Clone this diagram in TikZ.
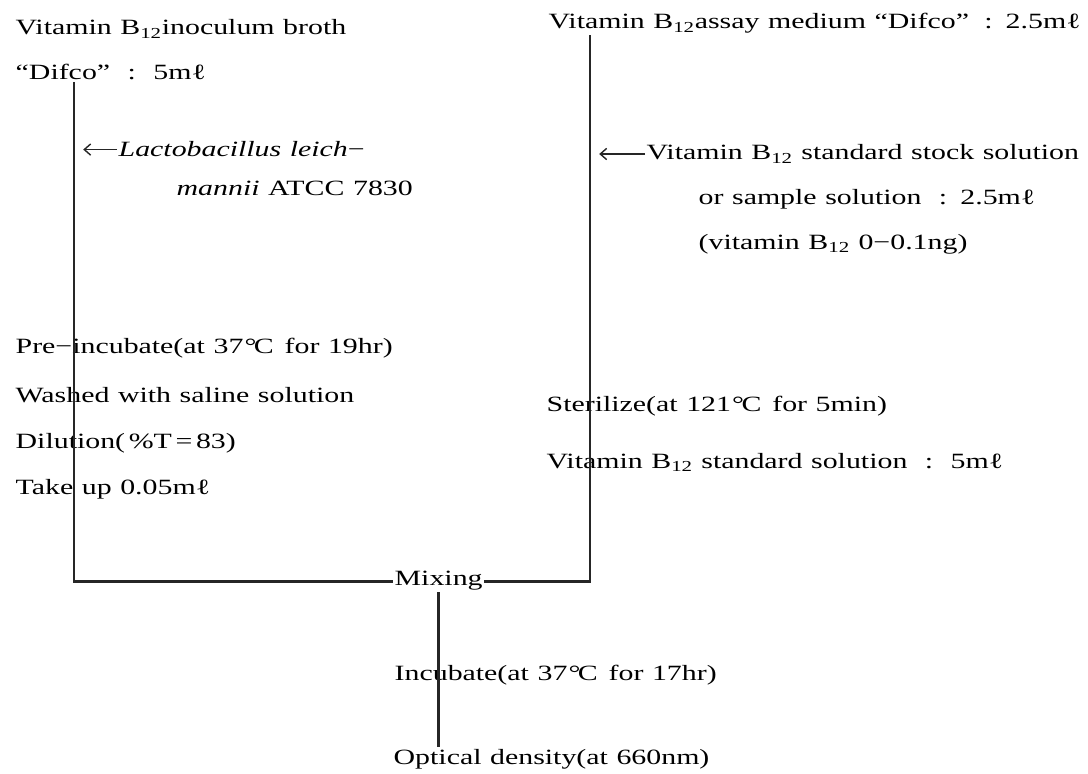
\documentclass[tikz,border=0pt]{standalone}
\usepackage{fontspec}
\setmainfont{Liberation Serif}[FakeStretch=1.37,WordSpace=1.15]
\usetikzlibrary{positioning, arrows.meta}
\newcommand\degC{\kern.05em\textdegree\kern-.12em C}

\begin{document}
\begin{tikzpicture}[
    x=0.025cm, y=-0.025cm,
    txt/.style={
        anchor=base west, inner sep=1pt, text=black,
        font=\fontsize{15.5}{18}\selectfont
    },
    flow/.style={
        draw=black!85, line width=2pt
    },
    arr/.style={
        draw=black!85, line width=1pt, -{Straight Barb[length=1.6mm,width=2.8mm]}
    }
]
    \useasboundingbox (0,0) rectangle (1088,774);

    \node[txt](inoc1) at (14,35){Vitamin B\textsubscript{12}inoculum broth};
    \node[txt,below=1.12cm of inoc1.base west,anchor=base west](inoc2){``Difco''\hspace{.8em}:\hspace{.8em}5mℓ};
    \node[txt](lac1) at (117,157){\textit{Lactobacillus leich}−};
    \node[txt](lac2) at (175,196){\textit{mannii} ATCC 7830};

    \node[txt](pre) at (14,354){Pre−incubate(at 37\degC\enspace for 19hr)};
    \node[txt,below=1.2cm of pre.base west,anchor=base west](wash){Washed with saline solution};
    \node[txt,below=1.17cm of wash.base west,anchor=base west](dil){Dilution(\,\%T\,=\,83)};
    \node[txt,below=1.13cm of dil.base west,anchor=base west](take){Take up 0.05mℓ};

    \node[txt](assay) at (547,29){Vitamin B\textsubscript{12}assay medium ``Difco''\hspace{.7em}:\hspace{.6em}2.5mℓ};
    \node[txt](std1) at (645,160){Vitamin B\textsubscript{12} standard stock solution};
    \node[txt](std2) at (697,205){or sample solution\hspace{.8em}:\hspace{.6em}2.5mℓ};
    \node[txt,below=1.12cm of std2.base west,anchor=base west](std3){(vitamin B\textsubscript{12} 0−0.1ng)};
    \node[txt](ster) at (545,412){Sterilize(at 121\degC\enspace for 5min)};
    \node[txt,below=1.42cm of ster.base west,anchor=base west](stds){Vitamin B\textsubscript{12} standard solution\hspace{.8em}:\hspace{.8em}5mℓ};

    \node[txt](mix) at (393,586){Mixing};
    \node[txt](inc) at (393,680){Incubate(at 37\degC\enspace for 17hr)};
    \node[txt](od) at (392,764){Optical density(at 660nm)};

    \coordinate (lc) at (74,0);
    \coordinate (rc) at (590,0);

    \draw[flow] (inoc2.south -| lc) -- (lc |- mix.west) -- (mix.west);
    \draw[flow] (assay.south -| rc) -- (rc |- mix.east) -- (mix.east);
    \draw[flow] (mix.south) -- (mix.south |- od.north);

    \draw[arr] (lac1.west) -- ([xshift=2.3mm]lac1.west -| lc);
    \draw[arr] (std1.west) -- ([xshift=2.3mm]std1.west -| rc);

\end{tikzpicture}
\end{document}
